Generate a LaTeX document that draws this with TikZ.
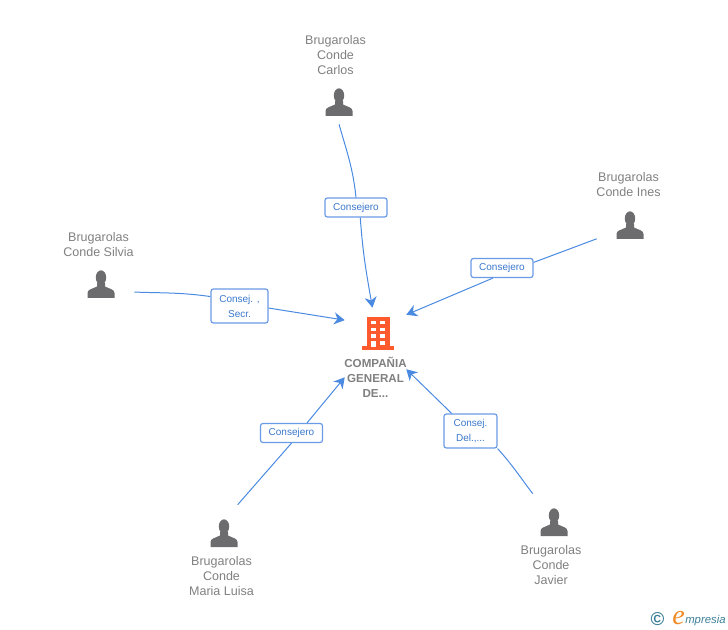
\documentclass[tikz,border=0pt]{standalone}
\usepackage{fontspec}
\usepackage{xcolor}
\setmainfont{Liberation Sans}
\newfontfamily\logofont{Liberation Serif}
\usetikzlibrary{arrows.meta}
\definecolor{linkblue}{HTML}{4A8AE0}
\definecolor{boxblue}{HTML}{6A9BE6}
\definecolor{textblue}{HTML}{3A78CC}
\definecolor{namegray}{HTML}{808080}
\definecolor{icongray}{HTML}{6C6C6E}
\definecolor{buildorange}{HTML}{FF5A2E}
\definecolor{logoteal}{HTML}{3C7F97}
\definecolor{logoorange}{HTML}{F08A24}

\tikzset{
	person/.style={minimum width=66*0.75pt, minimum height=42*0.75pt, inner sep=0pt,
		path picture={
			\fill[icongray] (0,-7.5) ellipse (5.2 and 7.2);
			\fill[icongray] (-13.5,13) -- (-13.5,8) .. controls (-13.5,4.5) and (-9,4) .. (-4,1.5)
				-- (-4,-2) -- (4,-2) -- (4,1.5) .. controls (9,4) and (13.5,4.5) .. (13.5,8) -- (13.5,13) -- cycle;
		}},
	tallperson/.style={person, minimum height=58*0.75pt},
	personname/.style={text=namegray, align=center, inner sep=0pt, font=\fontsize{9.4}{11.25}\selectfont},
	role/.style={draw=boxblue, line width=0.9pt, rounded corners=1.8pt, fill=white, text=textblue,
		align=center, inner sep=0pt, font=\fontsize{7.5}{11.25}\selectfont},
	link/.style={draw=linkblue, line width=0.75pt},
	arrowlink/.style={link, -{Stealth[length=8pt, width=9pt, inset=2.5pt]}}
}

\begin{document}
\begin{tikzpicture}[x=0.75pt, y=-0.75pt]
	\useasboundingbox (0,0) rectangle (728,630);

	% the company
	\node[inner sep=0pt, minimum width=61*0.75pt, minimum height=69*0.75pt] (company) at (375.5,342.5) {};
	\fill[buildorange] (367,317) rectangle (389.5,347);
	\fill[buildorange] (362,346.5) rectangle (394,350.5);
	\foreach \rowy in {320.7,327.7,334.3} {
		\fill[white] (371.3,\rowy) rectangle +(4.4,3.8);
		\fill[white] (380.4,\rowy) rectangle +(4.4,3.8);
	}
	\fill[white] (371.3,341) rectangle (375.7,347);
	\fill[white] (380.4,341) rectangle (384.8,345);
	\node[personname, font=\bfseries\fontsize{8.7}{11.25}\selectfont] (companyname) at (375.5,377) {COMPAÑIA\\GENERAL\\DE...};

	% the people
	\node[person] (carlos) at (339,103) {};
	\node[person] (ines) at (630,226) {};
	\node[person] (silvia) at (101,285) {};
	\node[tallperson] (maria) at (224,534) {};
	\node[tallperson] (javier) at (554,523) {};

	\node[personname] (carlosname) at (335.5,55) {Brugarolas\\Conde\\Carlos};
	\node[personname] (inesname) at (628.5,184.5) {Brugarolas\\Conde Ines};
	\node[personname] (silvianame) at (98.5,245) {Brugarolas\\Conde Silvia};
	\node[personname] (marianame) at (221.5,576) {Brugarolas\\Conde\\Maria Luisa};
	\node[personname] (javiername) at (551,565) {Brugarolas\\Conde\\Javier};

	% the roles
	\node[role, minimum width=62*0.75pt, minimum height=19*0.75pt] (carlosrole) at (356,207.5) {Consejero};
	\node[role, minimum width=62*0.75pt, minimum height=19*0.75pt] (inesrole) at (502,268) {Consejero};
	\node[role, minimum width=57*0.75pt, minimum height=34*0.75pt] (silviarole) at (239.5,306) {Consej. ,\\Secr.};
	\node[role, minimum width=62*0.75pt, minimum height=19*0.75pt] (mariarole) at (291.5,433) {Consejero};
	\node[role, minimum width=53*0.75pt, minimum height=34*0.75pt] (javierrole) at (470.5,431) {Consej.\\Del.,...};

	% the connectors
	\draw[link] (carlos.south) to[out=-74, in=96] (carlosrole.north);
	\draw[arrowlink] (carlosrole.-67) to[out=-86, in=100] (company.95.8);
	\draw[link] (ines.201) -- (inesrole.10);
	\draw[arrowlink] (inesrole.228) -- (company.42);
	\draw[link] (silvia.-12) to[out=-2, in=172] (silviarole.162);
	\draw[arrowlink] (silviarole.-4) -- (company.144.8);
	\draw[link] (maria.65) -- (mariarole.south);
	\draw[arrowlink] (mariarole.33) -- (company.south west);
	\draw[link] (javier.126) to[out=127, in=-48] (javierrole.south east);
	\draw[arrowlink] (javierrole.137) -- (company.-41);

	% the logo
	\node[text=logoteal, inner sep=0pt, font=\bfseries\fontsize{14}{14}\selectfont] (logomark) at (657.5,619) {©};
	\node[text=logoorange, inner sep=0pt, anchor=base west, font=\logofont\itshape\fontsize{21}{21}\selectfont] (logoe) at (672,624) {e};
	\node[text=logoteal, inner sep=0pt, anchor=base west, font=\itshape\fontsize{8.5}{8.5}\selectfont] (logotext) at (685,623.5) {mpresia};
\end{tikzpicture}
\end{document}
